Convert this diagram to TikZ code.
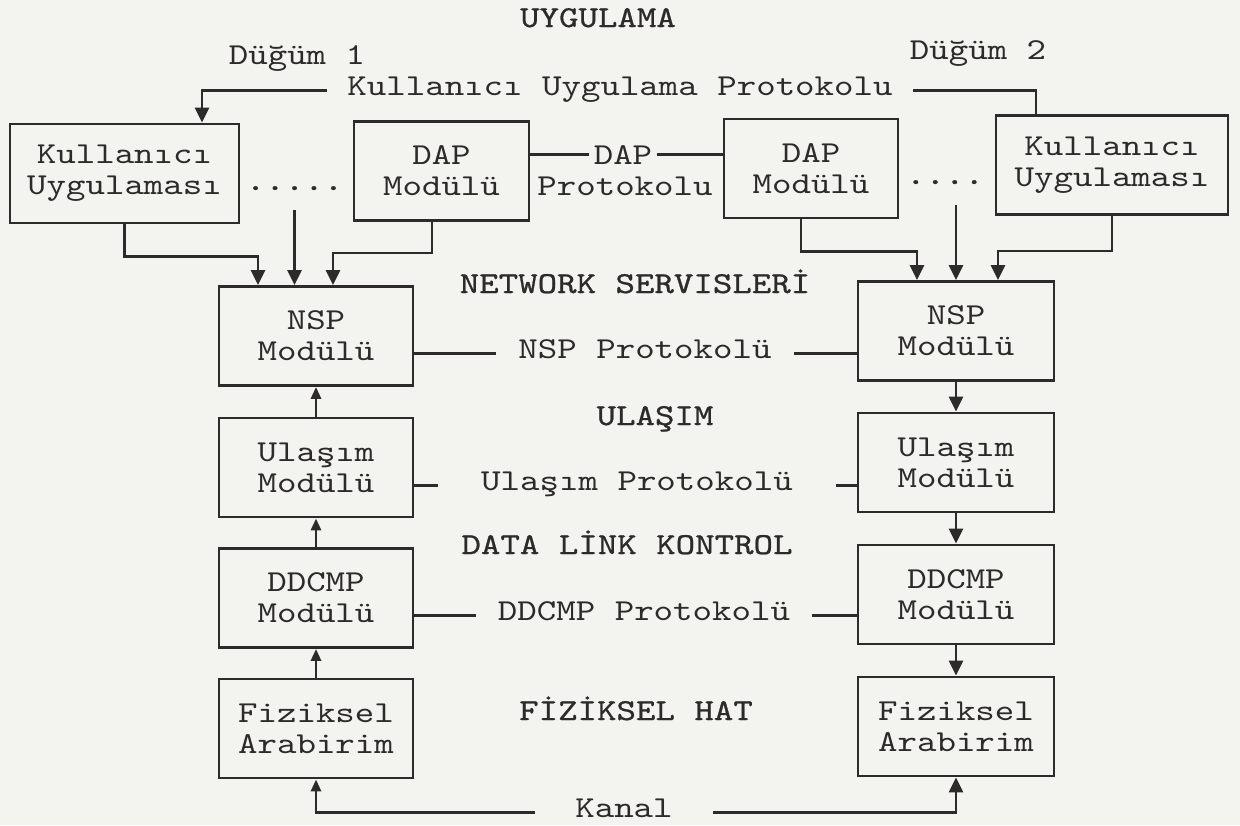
\documentclass[tikz,border=0pt]{standalone}
\usepackage{fontspec}
\newfontfamily\typefont{lmmono10-regular.otf}[FakeStretch=1.22]
\newfontfamily\layerfont{lmmono10-regular.otf}[FakeStretch=1.22, FakeBold=0.8]
\usetikzlibrary{arrows.meta,calc}

\definecolor{paper}{RGB}{243,243,239}
\definecolor{ink}{RGB}{45,42,42}

\begin{document}
\begin{tikzpicture}[x=0.5pt, y=-0.5pt,
    every node/.style={font=\typefont\fontsize{15.2}{15.5}\selectfont, text=ink, inner sep=0pt},
    box/.style={draw=ink, line width=1.4pt, minimum height=49.5pt, align=center},
    layer/.style={font=\layerfont\fontsize{15.2}{16}\selectfont, anchor=base},
    proto/.style={anchor=base, inner xsep=11pt},
    dots/.style={font=\layerfont\fontsize{15.2}{16}\selectfont, anchor=base},
    wire/.style={draw=ink, line width=1.4pt},
    arr/.style={wire, -{Triangle[width=7pt,length=7.5pt]}},
    arrs/.style={wire, -{Triangle[width=5pt,length=6pt]}}]

  \fill [paper] (0,0) rectangle (1240,825);
  \useasboundingbox (0,0) rectangle (1240,825);

  % application layer, node 1 on the left and node 2 on the right
  \node [layer] (uyg) at (598,27) {UYGULAMA};
  \node [anchor=base] (dug1) at (297,64) {Düğüm 1};
  \node [anchor=base] (dug2) at (978,59) {Düğüm 2};
  \node [proto, inner xsep=10pt] (kup) at (620,95) {Kullanıcı Uygulama Protokolu};

  \node [box, minimum width=114.5pt] (kulL) at (124.5,173.5) {Kullanıcı\\Uygulaması};
  \node [box, minimum width=87.5pt] (dapL) at (441.5,171) {DAP\\Modülü};
  \node [box, minimum width=87pt] (dapR) at (811,168.5) {DAP\\Modülü};
  \node [box, minimum width=116pt] (kulR) at (1112,165) {Kullanıcı\\Uygulaması};

  \node [dots, inner ysep=10pt] (dotsL) at (294.5,190) {.....};
  \node [dots, inner ysep=10.5pt] (dotsR) at (945,184) {....};

  \node [anchor=base, inner xsep=2pt] (dapP) at (623,164) {DAP};
  \node [anchor=base] (dapPb) at (625,195) {Protokolu};
  \draw [wire] (dapL.east |- dapP.west) -- (dapP.west);
  \draw [wire] (dapP.east) -- (dapP.east -| dapR.west);

  % layer titles
  \node [layer] (net) at (635,293) {NETWORK SERVISLERİ};
  \node [layer] (ula) at (655,425) {ULAŞIM};
  \node [layer] (dlk) at (627,554) {DATA LİNK KONTROL};
  \node [layer] (fiz) at (636,720) {FİZİKSEL HAT};

  % module stacks
  \node [box, minimum width=97pt] (nspL) at (316,336) {NSP\\Modülü};
  \node [box, minimum width=97pt] (ulaL) at (316,467.5) {Ulaşım\\Modülü};
  \node [box, minimum width=97pt] (ddcL) at (316,598) {DDCMP\\Modülü};
  \node [box, minimum width=97pt] (fizL) at (316,728.5) {Fiziksel\\Arabirim};

  \node [box, minimum width=98pt] (nspR) at (956,331) {NSP\\Modülü};
  \node [box, minimum width=98pt] (ulaR) at (956,462.5) {Ulaşım\\Modülü};
  \node [box, minimum width=98pt] (ddcR) at (956,594.5) {DDCMP\\Modülü};
  \node [box, minimum width=98pt] (fizR) at (956,726.5) {Fiziksel\\Arabirim};

  % peer protocols
  \node [proto] (nspP) at (645,358) {NSP Protokolü};
  \node [proto, inner xsep=21.5pt] (ulaP) at (637,490) {Ulaşım Protokolü};
  \node [proto] (ddcP) at (644,620) {DDCMP Protokolü};
  \node [proto, inner xsep=20pt] (kanal) at (624,817) {Kanal};

  \foreach \p/\l/\r in {nspP/nspL/nspR, ulaP/ulaL/ulaR, ddcP/ddcL/ddcR} {
    \draw [wire] (\p.mid west) -- (\p.mid west -| \l.east);
    \draw [wire] (\p.mid east) -- (\p.mid east -| \r.west);
  }

  \draw [arr] (kup.mid west) -| ($(kulL.north)+(77.5,0)$);
  \draw [wire] (kup.mid east) -| ($(kulR.north)+(-76,0)$);

  % down into the NSP modules
  \draw [arr] (kulL.south) -- ++(0,32) -| ($(nspL.north)+(-58,0)$);
  \draw [arr] (dotsL.south) -- (dotsL.south |- nspL.north);
  \draw [arr] ($(dapL.south)+(-9.5,0)$) -- ++(0,31) -| ($(nspL.north)+(17,0)$);

  \draw [arr] ($(dapR.south)+(-10,0)$) -- ++(0,32) -| ($(nspR.north)+(-39,0)$);
  \draw [arr] (dotsR.south -| nspR.north) -- (nspR.north);
  \draw [arr] (kulR.south) -- ++(0,35) -| ($(nspR.north)+(42,0)$);

  % node 1 goes up, node 2 goes down
  \draw [arrs] (ulaL.north) -- (nspL.south);
  \draw [arrs] (ddcL.north) -- (ulaL.south);
  \draw [arrs] (fizL.north) -- (ddcL.south);
  \draw [arr] (nspR.south) -- (ulaR.north);
  \draw [arr] (ulaR.south) -- (ddcR.north);
  \draw [arr] (ddcR.south) -- (fizR.north);

  \draw [arrs] (kanal.mid west) -| (fizL.south);
  \draw [arr] (kanal.mid east) -| (fizR.south);
\end{tikzpicture}
\end{document}
